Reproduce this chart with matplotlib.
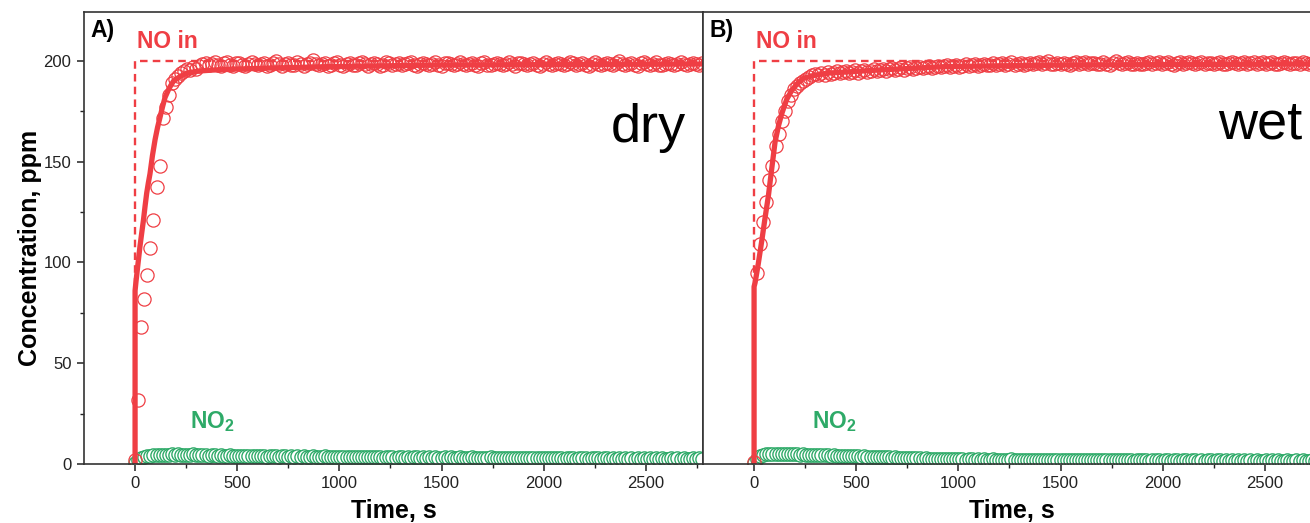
import numpy as np
import matplotlib.pyplot as plt

plt.rcParams['font.family'] = ['Liberation Sans', 'DejaVu Sans']
plt.rcParams['mathtext.fontset'] = 'custom'
plt.rcParams['mathtext.rm'] = 'Liberation Sans'
plt.rcParams['mathtext.bf'] = 'Liberation Sans:bold'

RED = '#EF3E44'
GREEN = '#2EAA68'

dt = 15  # sampling interval, s

# measured NO outlet concentration, dry feed (ppm)
no_dry = [2, 32, 68, 82, 94, 107, 121, 137.5, 148, 171.5,
          177, 183, 189, 191, 192.5, 194, 195, 196, 195.5, 197,
          196, 197.5, 198.4, 199.0, 197.8, 198.6, 199.3, 198.0, 197.6, 198.8,
          199.5, 198.2, 197.4, 198.9, 199.1, 198.0, 197.7, 198.5, 199.6, 198.3, 197.9, 198.7,
          199.2, 197.6, 198.1, 198.9, 199.8, 198.4, 197.5, 198.6, 199.0, 198.2, 197.8, 199.4,
          198.5, 197.6, 198.3, 199.1, 200.3, 198.7, 197.9, 198.4, 199.0, 197.7, 198.2, 198.8,
          199.3, 198.0, 197.5, 198.6, 199.2, 198.1, 197.8, 198.9, 199.5, 198.3, 197.6, 198.4,
          199.0, 198.6, 197.7, 198.2, 199.4, 198.8, 197.9, 198.5, 199.1, 197.8, 198.3, 198.9,
          199.6, 198.2, 197.6, 198.7, 199.0, 198.4, 197.9, 198.6, 199.3, 198.1, 197.7, 198.8,
          199.2, 198.5, 197.8, 198.3, 199.7, 198.6, 197.9, 198.4, 199.0, 198.2, 197.6, 198.9,
          199.4, 198.1, 197.8, 198.6, 199.1, 198.7, 198.0, 198.4, 199.5, 198.3, 197.7, 198.8,
          199.2, 198.4, 197.9, 198.5, 199.0, 198.2, 197.6, 198.7, 199.3, 198.5, 197.8, 198.4,
          199.1, 198.6, 197.9, 198.3, 199.6, 198.8, 198.0, 198.5, 199.2, 198.1, 197.7, 198.6,
          199.4, 198.3, 197.8, 198.7, 199.0, 198.4, 198.1, 198.9, 200.2, 198.6, 197.9, 198.5,
          199.1, 198.2, 197.7, 198.8, 199.3, 198.5, 198.0, 198.6, 199.4, 198.2, 197.8, 198.7,
          199.2, 198.6, 197.9, 198.4, 199.5, 198.7, 198.1, 198.5, 199.0, 198.3, 197.8, 198.9]

# measured NO outlet concentration, wet feed (ppm)
no_wet = [1, 95, 109, 120, 130, 141, 148, 158, 164, 170,
          175, 180, 183, 186, 187.5, 189, 190, 191, 192, 193,
          193.5, 192.8, 194.0, 193.2, 194.5, 193.6, 194.2, 195.0, 193.8, 194.4,
          195.1, 194.0, 194.7, 195.3, 194.2, 195.0, 195.6, 194.5, 195.2, 196.0, 194.9, 195.5,
          196.1, 195.2, 195.8, 196.5, 195.4, 196.2, 196.8, 195.7, 196.4, 197.0, 196.0, 196.6,
          197.2, 196.3, 196.9, 197.5, 196.5, 197.1, 197.6, 196.8, 197.3, 197.9, 196.9, 197.4,
          198.0, 197.1, 197.6, 198.3, 197.4, 197.9, 198.5, 197.5, 198.1, 198.7, 197.8, 198.2,
          198.9, 198.0, 198.4, 199.1, 198.1, 198.6, 199.3, 198.2, 198.7, 199.0, 198.1, 198.5,
          199.2, 198.3, 198.8, 199.5, 198.4, 198.9, 200.1, 198.7, 198.3, 199.0, 198.5, 199.2,
          198.6, 198.2, 199.0, 199.4, 198.5, 198.8, 199.6, 198.3, 198.9, 199.2, 198.4, 198.7,
          199.5, 198.6, 198.2, 198.9, 200.2, 199.1, 198.5, 198.8, 199.4, 198.3, 198.7, 199.1,
          198.6, 198.3, 199.2, 199.6, 198.5, 198.9, 199.3, 198.4, 198.8, 199.5, 198.6, 198.2,
          199.0, 199.4, 198.5, 198.8, 199.7, 198.9, 198.4, 199.1, 199.3, 198.6, 198.8, 199.2,
          198.5, 198.9, 199.4, 198.7, 198.3, 199.0, 199.6, 198.8, 198.4, 199.1, 199.3, 198.7,
          199.0, 199.5, 198.6, 198.9, 199.3, 198.5, 198.8, 199.6, 198.7, 198.4, 199.1, 199.4,
          198.8, 198.5, 199.2, 199.0, 198.6, 199.4, 198.9, 198.5, 199.1, 199.3, 198.7, 199.0]

# measured NO2, dry feed (ppm)
no2_dry = [0.5, 2.0, 3.0, 3.6, 4.0, 4.2, 4.4, 4.3, 4.6, 4.5,
           4.7, 4.4, 4.8, 4.6, 4.9, 4.5, 4.7, 4.4, 4.6, 4.8,
           4.5, 4.3, 4.6, 4.4, 4.2, 4.5, 4.3, 4.1, 4.4, 4.2,
           4.0, 4.3, 4.1, 3.9, 4.2, 4.0, 3.8, 4.1, 3.9, 4.0, 3.8, 4.1,
           3.9, 3.7, 4.0, 3.8, 3.9, 3.7, 4.0, 3.8, 3.6, 3.9, 3.7, 3.8,
           3.6, 3.9, 3.7, 3.5, 3.8, 3.6, 3.7, 3.5, 3.8, 3.6, 3.4, 3.7,
           3.5, 3.6, 3.4, 3.7, 3.5, 3.3, 3.6, 3.4, 3.5, 3.3, 3.6, 3.4,
           3.3, 3.5, 3.4, 3.2, 3.5, 3.3, 3.4, 3.2, 3.5, 3.3, 3.1, 3.4,
           3.2, 3.4, 3.3, 3.1, 3.4, 3.2, 3.3, 3.1, 3.4, 3.2, 3.0, 3.3,
           3.1, 3.3, 3.2, 3.0, 3.3, 3.1, 3.2, 3.0, 3.3, 3.1, 3.2, 3.0,
           3.2, 3.0, 3.3, 3.1, 2.9, 3.2, 3.0, 3.1, 2.9, 3.2, 3.0, 3.1,
           2.9, 3.1, 3.0, 2.8, 3.1, 2.9, 3.0, 2.8, 3.1, 2.9, 3.0, 2.8,
           3.0, 2.9, 2.7, 3.0, 2.8, 2.9, 2.7, 3.0, 2.8, 2.9, 2.7, 2.9,
           2.8, 3.0, 2.7, 2.9, 2.8, 2.6, 2.9, 2.7, 2.8, 2.6, 2.9, 2.7,
           2.8, 2.6, 2.9, 2.7, 2.8, 2.6, 2.8, 2.7, 2.9, 2.6, 2.8, 2.7,
           2.6, 2.8, 2.7, 2.9, 2.6, 2.8, 2.7, 2.6, 2.8, 2.7, 2.9, 2.6]

# measured NO2, wet feed (ppm)
no2_wet = [0.3, 2.5, 4.0, 4.6, 4.9, 5.1, 5.0, 5.2, 5.0, 5.1,
           5.0, 4.9, 5.1, 4.8, 4.9, 4.7, 4.8, 4.6, 4.7, 4.5,
           4.6, 4.4, 4.5, 4.3, 4.4, 4.2, 4.3, 4.1, 4.2, 4.0,
           4.1, 3.9, 4.0, 3.8, 3.9, 3.7, 3.8, 3.6, 3.7, 3.5, 3.6, 3.4,
           3.5, 3.3, 3.4, 3.2, 3.3, 3.1, 3.2, 3.0, 3.1, 2.9, 3.0, 2.8,
           2.9, 2.7, 2.8, 2.6, 2.7, 2.5, 2.6, 2.4, 2.5, 2.6, 2.4, 2.5,
           2.3, 2.5, 2.4, 2.2, 2.4, 2.3, 2.1, 2.3, 2.2, 2.4, 2.2, 2.1,
           2.3, 2.1, 2.2, 2.0, 2.2, 2.1, 2.3, 2.0, 2.1, 2.2, 2.0, 2.1,
           2.2, 2.0, 2.1, 1.9, 2.1, 2.0, 2.2, 1.9, 2.0, 2.1, 1.9, 2.0,
           2.1, 1.9, 2.0, 1.8, 2.0, 2.1, 1.9, 1.8, 2.0, 1.9, 2.1, 1.8,
           1.9, 2.0, 1.8, 1.9, 2.1, 1.8, 1.9, 2.0, 1.8, 1.9, 1.7, 2.0,
           1.8, 1.9, 2.0, 1.7, 1.9, 1.8, 2.0, 1.7, 1.8, 1.9, 1.7, 1.8,
           1.9, 1.7, 1.8, 2.0, 1.7, 1.8, 1.9, 1.7, 1.8, 1.6, 1.9, 1.8,
           1.7, 1.8, 1.9, 1.6, 1.8, 1.7, 1.9, 1.6, 1.8, 1.7, 1.8, 1.6,
           1.8, 1.7, 1.9, 1.6, 1.7, 1.8, 1.6, 1.9, 1.7, 1.8, 1.6, 1.7,
           1.8, 1.6, 1.7, 1.9, 1.6, 1.8, 1.7, 1.6, 1.8, 1.7, 1.9, 1.7]

# model curves
fit_t_dry = [0, 0, 5, 15, 24, 33, 41, 49, 57, 65, 73, 85, 98, 110, 122, 135, 147,
             167, 188, 220, 253, 310, 383, 500, 628, 954, 1500, 2780]
fit_y_dry = [0, 86, 91, 100, 108, 115, 121, 128, 134.5, 139.5, 144, 153, 161, 167, 172, 177.5, 182,
             186.5, 190, 192.3, 194, 195, 195.5, 196, 196.4, 197.2, 198, 198.5]
fit_t_wet = [0, 0, 5, 20, 38, 55, 70, 87, 103, 120, 136, 160, 185, 212, 242, 300, 365, 608, 935, 1500, 2780]
fit_y_wet = [0, 88, 90, 99, 111, 123, 133, 147, 160, 168, 174, 181, 185.5, 188.8, 191.4, 193, 194, 195.5, 197.2, 198, 198.5]

# NO inlet step
inlet_t = [0, 0, 2780]
inlet_y = [0, 200, 200]

panels = [
    ('A)', 'dry', no_dry, no2_dry, fit_t_dry, fit_y_dry),
    ('B)', 'wet', no_wet, no2_wet, fit_t_wet, fit_y_wet),
]

fig = plt.figure(figsize=(13.1, 5.23), dpi=100)
ax_w = 619 / 1310
ax_b = 1 - 464 / 523
ax_h = 452 / 523
lefts = [84 / 1310, 703 / 1310]

for i, (tag, cond, no, no2, ft, fy) in enumerate(panels):
    ax = fig.add_axes([lefts[i], ax_b, ax_w, ax_h])
    t_no = np.arange(len(no)) * dt
    t_no2 = np.arange(len(no2)) * dt

    ax.plot(t_no2, no2, 'o', mfc='white', mec=GREEN, ms=9.5, mew=1.0, zorder=2)
    ax.plot(t_no, no, 'o', mfc='none', mec=RED, ms=9.5, mew=0.9, zorder=3)
    ax.plot(ft, fy, color=RED, lw=3.8, zorder=4, solid_capstyle='butt')
    ax.plot(inlet_t, inlet_y, color=RED, lw=1.7, ls=(0, (3.2, 2.2)), zorder=5)

    ax.set_xlim(-250, 2780)
    ax.set_ylim(0, 224.3)
    ax.set_xticks([0, 500, 1000, 1500, 2000, 2500])
    ax.set_xticks(np.arange(250, 2780, 500), minor=True)
    ax.tick_params(axis='x', which='major', direction='out', length=5, width=1.1,
                   labelsize=12, pad=4, colors='#222222')
    ax.tick_params(axis='x', which='minor', direction='out', length=3, width=1.0,
                   colors='#222222')
    if i == 0:
        ax.set_yticks([0, 50, 100, 150, 200])
        ax.set_yticks([25, 75, 125, 175], minor=True)
        ax.tick_params(axis='y', which='major', direction='out', length=5, width=1.1,
                       labelsize=12, pad=4, colors='#222222')
        ax.tick_params(axis='y', which='minor', direction='out', length=3, width=1.0,
                       colors='#222222')
    else:
        ax.set_yticks([])
    ax.tick_params(top=False, right=False)
    for s in ax.spines.values():
        s.set_linewidth(1.2)
        s.set_color('#333333')
    ax.spines['bottom'].set_zorder(6)

    ax.text(0.01, 0.96, tag, transform=ax.transAxes, fontsize=16.5, fontweight='bold',
            ha='left', va='center')
    ax.text(0.086, 0.934, 'NO in', transform=ax.transAxes, fontsize=16.5,
            fontweight='bold', color=RED, ha='left', va='center')
    ax.text(0.171 if i == 0 else 0.176, 0.095, r'$\mathbf{NO_2}$', transform=ax.transAxes,
            fontsize=16.5, color=GREEN, ha='left', va='center')
    if i == 0:
        ax.text(0.9725, 0.712, cond, transform=ax.transAxes, fontsize=39,
                ha='right', va='baseline')
    else:
        ax.text(0.832, 0.721, cond, transform=ax.transAxes, fontsize=39,
                ha='left', va='baseline')

fig.text(393.5 / 1310, 1 - 511 / 523, 'Time, s', fontsize=18, fontweight='bold',
         ha='center', va='center')
fig.text(1012 / 1310, 1 - 511 / 523, 'Time, s', fontsize=18, fontweight='bold',
         ha='center', va='center')
fig.text(30 / 1310, 1 - 248 / 523, 'Concentration, ppm', fontsize=18, fontweight='bold',
         ha='center', va='center', rotation=90)

plt.savefig('out.png', dpi=100)
plt.close()
